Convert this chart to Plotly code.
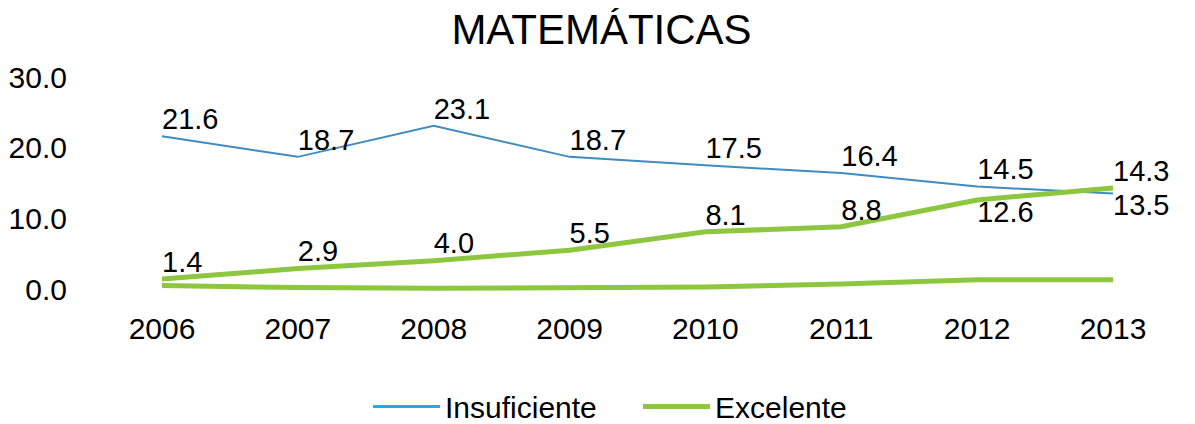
# Gráfico de linhas - resultados de Matemáticas (Insuficiente x Excelente)
import plotly.graph_objects as go

# Dados
years = ["2006", "2007", "2008", "2009", "2010", "2011", "2012", "2013"]
insuficiente = [21.6, 18.7, 23.1, 18.7, 17.5, 16.4, 14.5, 13.5]
excelente = [1.4, 2.9, 4.0, 5.5, 8.1, 8.8, 12.6, 14.3]
excelente_base = [0.5, 0.2, 0.1, 0.2, 0.3, 0.7, 1.3, 1.3]  # segunda linha verde, sem rótulos
y_ticks = [0, 10, 20, 30]

FONT = "Liberation Sans, Arial, sans-serif"
BLUE_LINE = "#3F8CBF"
BLUE_LEGEND = "#1AAFEC"
GREEN = "#8DC63F"

# Posição dos rótulos (Excel deixou alguns embaixo no fim da série)
pos_insuf = ["top right"] * 7 + ["bottom right"]
pos_exc = ["top right"] * 6 + ["bottom right", "top right"]


def plot_matematicas():
    fig = go.Figure()

    # Linha azul - Insuficiente
    fig.add_trace(go.Scatter(
        x=years, y=insuficiente, mode="lines+text",
        text=[f"{v:.1f}" for v in insuficiente], textposition=pos_insuf,
        textfont=dict(size=29, color="black", family=FONT),
        line=dict(color=BLUE_LINE, width=2), showlegend=False, cliponaxis=False
    ))

    # Linha verde mais baixa
    fig.add_trace(go.Scatter(
        x=years, y=excelente_base, mode="lines",
        line=dict(color=GREEN, width=5), showlegend=False, cliponaxis=False
    ))

    # Linha verde - Excelente
    fig.add_trace(go.Scatter(
        x=years, y=excelente, mode="lines+text",
        text=[f"{v:.1f}" for v in excelente], textposition=pos_exc,
        textfont=dict(size=29, color="black", family=FONT),
        line=dict(color=GREEN, width=5), showlegend=False, cliponaxis=False
    ))

    # Entradas da legenda (cores da legenda diferem um pouco das linhas)
    fig.add_trace(go.Scatter(x=[None], y=[None], mode="lines", name="Insuficiente",
                             line=dict(color=BLUE_LEGEND, width=3)))
    fig.add_trace(go.Scatter(x=[None], y=[None], mode="lines", name="Excelente",
                             line=dict(color=GREEN, width=5)))

    # A página tem margem de 8px no body, por isso a figura é um pouco menor
    fig.update_layout(
        width=1187, height=416,
        margin=dict(l=72, r=10, t=62, b=124, autoexpand=False),
        paper_bgcolor="white", plot_bgcolor="white",
        font=dict(family=FONT, size=30, color="black"),
        title=dict(text="MATEMÁTICAS", x=0.5, xanchor="center",
                   y=0.95, yanchor="middle", font=dict(size=42)),
        legend=dict(orientation="h", x=0.505, xanchor="center",
                    yref="container", y=0.042, yanchor="middle",
                    font=dict(size=30), itemwidth=67, entrywidth=188),
        showlegend=True
    )

    fig.update_xaxes(
        type="category", range=[-0.6036, 7.53], automargin=False,
        showgrid=False, zeroline=False, showline=False, ticks="",
        ticklabelstandoff=8, tickfont=dict(size=30)
    )
    fig.update_yaxes(
        range=[-1.556, 30.99], tickvals=y_ticks, tickformat=".1f", automargin=False,
        showgrid=False, zeroline=False, showline=False, ticks="",
        ticklabelstandoff=12, tickfont=dict(size=30)
    )
    return fig


fig = plot_matematicas()
fig.write_html("out.html")
